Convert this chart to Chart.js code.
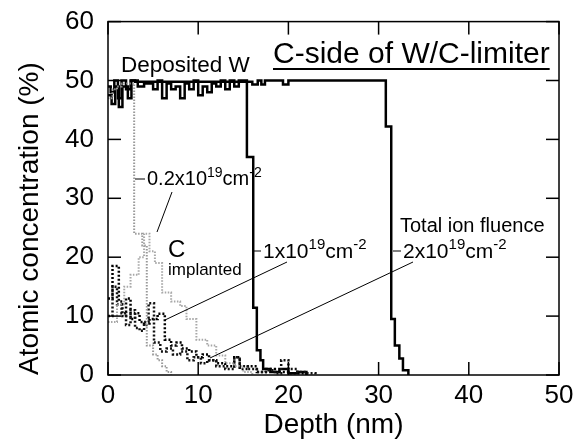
<!DOCTYPE html>
<html>
<head>
<meta charset="utf-8">
<script src="https://cdn.jsdelivr.net/npm/chart.js@4/dist/chart.umd.min.js"></script>
<style>
  html, body { margin: 0; padding: 0; background: #fff; }
  #wrap { width: 583px; height: 444px; }
</style>
</head>
<body>
<div id="wrap"><canvas id="depthChart" width="583" height="444"></canvas></div>
<script>
// axis ticks
const depthTicks = [0, 10, 20, 30, 40, 50];
const concTicks = [0, 10, 20, 30, 40, 50, 60];

// deposited W, 1x10^19 cm^-2 (value holds from each depth onward)
const depthW1 = [0, 0.4, 0.8, 1.2, 1.6, 2.2, 2.6, 3.3, 4, 5, 5.5, 6, 6.5, 7, 7.5, 8, 8.5, 9, 9.5, 10,
  10.5, 11, 11.5, 12, 12.5, 13, 13.5, 14, 14.5, 15.4, 16.1, 16.5, 16.9, 17.2, 18, 19, 20, 21, 22];
const concW1 = [47.5, 46, 49, 45.5, 49, 47, 50, 49, 49.5, 48.5, 50, 47, 49.5, 48.5, 49, 47, 49.5, 48.5, 50, 47.5,
  49, 48, 49.5, 49, 50, 48.5, 50, 49, 50, 37, 11.4, 4.2, 2.5, 1, 0.5, 1, 0.3, 0.5, 0];

// deposited W, 2x10^19 cm^-2
const depthW2 = [0, 0.3, 0.7, 1.1, 1.5, 2, 2.5, 3, 16, 16.6, 17, 17.4, 19.4, 20, 30.8, 31.4, 31.8, 32.3, 32.7, 33.3];
const concW2 = [49, 48, 50, 47, 50, 48.5, 50, 49.8, 49.3, 50, 49.3, 50, 49.3, 50, 42.2, 9.5, 5, 2.8, 0.8, 0];

// 0.2x10^19 cm^-2 (grey)
const depthG1 = [0, 0.5, 1, 1.5, 2.9, 3.8, 4.3, 5, 5.5, 6, 6.5, 7];
const concG1 = [47, 48.5, 49, 49.5, 24, 22, 5, 3.5, 2.5, 1.5, 0.5, 0];
const depthG2 = [0, 1, 1.8, 2.5, 3.4, 4, 4.6, 5.2, 6, 7, 8, 8.7, 9.8, 11, 12, 13, 14, 15, 16];
const concG2 = [9, 12, 15, 17, 20, 24, 21, 19, 14, 12.5, 11.7, 9.5, 6, 5, 3.3, 2, 1.5, 0.5, 0];

// implanted C, 1x10^19 cm^-2
const depthC1 = [0, 0.5, 1.2, 1.6, 2, 2.5, 3, 3.5, 4, 4.6, 5.5, 6.3, 7, 7.6, 8.2, 9, 9.8, 10.5, 11.2, 12,
  13, 14, 14.6, 15.5, 16.5, 17.5, 18.5, 20, 22];
const concC1 = [13, 18.5, 12.5, 10, 13, 9.5, 10.5, 9, 8.5, 9.5, 10.4, 6, 5, 5.5, 4.5, 4, 3, 3.5, 2.5, 2,
  1.5, 3, 1, 1.5, 0.5, 1, 0.5, 0.3, 0];

// implanted C, 2x10^19 cm^-2
const depthC2 = [0, 0.5, 1, 1.5, 2, 2.5, 3, 3.5, 4, 4.5, 5.1, 5.8, 6.5, 7.2, 8, 8.8, 9.5, 10.3, 11, 12,
  13, 14, 14.6, 15.5, 16.5, 17.5, 18.5, 19.2, 20, 21, 22, 23];
const concC2 = [10, 15, 12, 10.5, 8.5, 11, 8, 7.5, 9, 12.2, 5.5, 4, 4.5, 3.5, 4, 2.5, 3, 2, 2.5, 1.5,
  1, 3, 1.5, 1, 0.5, 0.8, 0.3, 2.5, 1, 0.5, 0.3, 0];

const FONT = '"Liberation Sans", Arial, Helvetica, sans-serif';

function pts(xs, ys) {
  return xs.map((x, i) => ({ x: x, y: ys[i] }));
}

// each value holds from its depth up to the next depth
function series(label, xs, ys, color, width, dash) {
  return {
    label: label,
    data: pts(xs, ys),
    showLine: true,
    stepped: 'before',
    borderColor: color,
    borderWidth: width,
    borderDash: dash,
    pointRadius: 0,
    fill: false
  };
}

// text with superscripts: parts = [[text, isSup], ...]
function drawSup(ctx, x, y, parts, size) {
  let cx = x;
  parts.forEach(p => {
    const sup = p[1];
    ctx.font = (sup ? Math.round(size * 0.7) : size) + 'px ' + FONT;
    ctx.fillText(p[0], cx, sup ? y - size * 0.42 : y);
    cx += ctx.measureText(p[0]).width;
  });
}

function line(ctx, x1, y1, x2, y2) {
  ctx.beginPath();
  ctx.moveTo(x1, y1);
  ctx.lineTo(x2, y2);
  ctx.stroke();
}

// frame, inward ticks and the labels in the plot
const decorations = {
  id: 'decorations',
  afterDatasetsDraw(chart) {
    const ctx = chart.ctx;
    const a = chart.chartArea;
    const xs = chart.scales.x, ys = chart.scales.y;
    ctx.save();
    ctx.strokeStyle = '#000';
    ctx.lineWidth = 1.5;
    ctx.strokeRect(a.left, a.top, a.right - a.left, a.bottom - a.top);
    const tl = 13;
    depthTicks.forEach(v => {
      const px = xs.getPixelForValue(v);
      line(ctx, px, a.bottom, px, a.bottom - tl);
      line(ctx, px, a.top, px, a.top + tl);
    });
    concTicks.forEach(v => {
      const py = ys.getPixelForValue(v);
      line(ctx, a.left, py, a.left + tl, py);
      line(ctx, a.right, py, a.right - tl, py);
    });

    ctx.fillStyle = '#000';
    ctx.textBaseline = 'alphabetic';
    ctx.textAlign = 'left';
    ctx.font = '22.5px ' + FONT;
    ctx.fillText('Deposited W', 121, 72);

    ctx.font = '30px ' + FONT;
    ctx.fillText('C-side of W/C-limiter', 273, 63);
    const tw = ctx.measureText('C-side of W/C-limiter').width;
    ctx.lineWidth = 2;
    line(ctx, 273, 69, 273 + tw, 69);

    ctx.lineWidth = 1;
    drawSup(ctx, 147, 185, [['0.2x10', false], ['19', true], ['cm', false], ['-2', true]], 20);
    line(ctx, 135, 179, 145, 179);
    line(ctx, 172, 192, 157, 232);

    ctx.font = '24px ' + FONT;
    ctx.fillText('C', 168, 257);
    ctx.font = '17px ' + FONT;
    ctx.fillText('implanted', 168, 275);

    drawSup(ctx, 263, 258, [['1x10', false], ['19', true], ['cm', false], ['-2', true]], 21);
    line(ctx, 253, 251, 261, 251);
    line(ctx, 287, 262, 165, 320);

    ctx.font = '20px ' + FONT;
    ctx.fillText('Total ion fluence', 400, 232);
    drawSup(ctx, 403, 258, [['2x10', false], ['19', true], ['cm', false], ['-2', true]], 21);
    line(ctx, 393, 251, 401, 251);
    line(ctx, 413, 262, 210, 358);
    ctx.restore();
  }
};

new Chart(document.getElementById('depthChart'), {
  type: 'scatter',
  data: {
    datasets: [
      series('W 0.2e19', depthG1, concG1, '#9a9a9a', 2, [1.5, 1.5]),
      series('C 0.2e19', depthG2, concG2, '#a8a8a8', 2, [1.5, 1.5]),
      series('C 2e19', depthC2, concC2, '#111', 2.5, [2, 2]),
      series('C 1e19', depthC1, concC1, '#000', 2.5, [2, 2]),
      series('W 2e19', depthW2, concW2, '#000', 2.5, []),
      series('W 1e19', depthW1, concW1, '#000', 2.5, [])
    ]
  },
  options: {
    responsive: false,
    devicePixelRatio: 1,
    animation: false,
    layout: { padding: { left: 0, top: 17, right: 24, bottom: 0 } },
    plugins: {
      legend: { display: false },
      tooltip: { enabled: false }
    },
    scales: {
      x: {
        type: 'linear',
        min: 0,
        max: 50,
        grid: { display: false },
        border: { display: false },
        ticks: {
          stepSize: 10,
          padding: -3,
          color: '#000',
          font: { family: FONT, size: 26 }
        },
        title: {
          display: true,
          text: 'Depth (nm)',
          color: '#000',
          font: { family: FONT, size: 28 },
          padding: { top: 0, bottom: 2 }
        },
        afterFit(scale) { scale.height = 69; }
      },
      y: {
        type: 'linear',
        min: 0,
        max: 60,
        grid: { display: false },
        border: { display: false },
        ticks: {
          stepSize: 10,
          padding: 6,
          color: '#000',
          font: { family: FONT, size: 26 }
        },
        title: {
          display: true,
          text: 'Atomic concentration (%)',
          align: 'start',
          color: '#000',
          font: { family: FONT, size: 28 },
          padding: { top: 13, bottom: 0 }
        },
        afterFit(scale) { scale.width = 108; }
      }
    }
  },
  plugins: [decorations]
});
</script>
</body>
</html>
